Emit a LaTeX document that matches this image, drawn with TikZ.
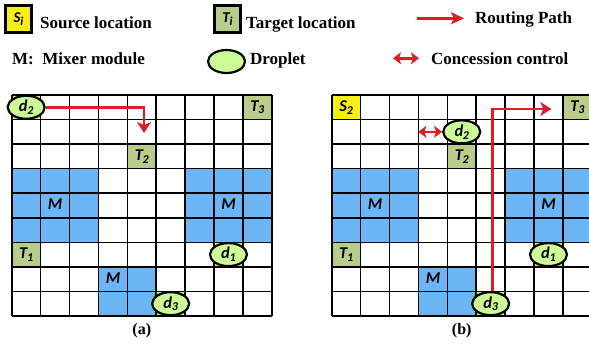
\documentclass[tikz,border=0pt]{standalone}
\usepackage{fontspec}
\setmainfont{Liberation Serif}
\newfontfamily\cellfont{Carlito}
\usetikzlibrary{arrows.meta,shapes.geometric}

\definecolor{srcyellow}{RGB}{246,240,20}
\definecolor{tgtgreen}{RGB}{184,204,140}
\definecolor{mixblue}{RGB}{108,182,246}
\definecolor{dropgreen}{RGB}{204,252,150}
\definecolor{pathred}{RGB}{222,30,38}

% italic bold cell label with a lowered index
\newcommand\celllab[2]{{\cellfont\bfseries\itshape #1\kern-0.3pt\raisebox{-0.35ex}{\fontsize{12}{12}\selectfont #2}}}

\tikzset{
  legtext/.style={anchor=base west, inner sep=0pt, font=\fontsize{17}{20}\selectfont\bfseries},
  gridline/.style={line width=1.6pt, black},
  celltext/.style={inner sep=0pt, font=\fontsize{16.5}{16}\selectfont},
  drop/.style={ellipse, draw=black, line width=2.2pt, fill=dropgreen,
    minimum width=37pt, minimum height=23pt, inner sep=0pt,
    font=\fontsize{16.5}{16}\selectfont},
  legbox/.style={rectangle, draw=black, line width=2.6pt, minimum width=26pt,
    minimum height=27pt, inner sep=0pt, font=\fontsize{15}{15}\selectfont},
  route/.style={draw=pathred, line width=2.8pt, -{Stealth[length=11pt,width=14pt,inset=3pt]}},
  concede/.style={draw=pathred, line width=2.6pt,
    {Stealth[length=8pt,width=12pt,inset=2pt]}-{Stealth[length=8pt,width=12pt,inset=2pt]}},
  caption/.style={inner sep=0pt, font=\fontsize{16}{18}\selectfont\bfseries},
}

% one 9x9 board; #1 is the prefix of its node names
\newcommand\drawboard[1]{%
  % mixer modules
  \fill[mixblue] (0,3) rectangle (3,6);
  \fill[mixblue] (6,3) rectangle (9,6);
  \fill[mixblue] (3,7) rectangle (5,9);
  % source cells
  \fill[srcyellow] (7,6) rectangle (8,7);
  \fill[srcyellow] (5,8) rectangle (6,9);
  \fill[srcyellow] (0,0) rectangle (1,1);
  % target cells
  \fill[tgtgreen] (8,0) rectangle (9,1);
  \fill[tgtgreen] (4,2) rectangle (5,3);
  \fill[tgtgreen] (0,6) rectangle (1,7);
  % electrode lines
  \foreach \i in {0,...,9} {
    \draw[gridline] (\i,0) -- (\i,9);
    \draw[gridline] (0,\i) -- (9,\i);
  }
  \node[celltext] (#1T3) at (8.5,0.5) {\celllab{T}{3}};
  \node[celltext] (#1T2) at (4.5,2.5) {\celllab{T}{2}};
  \node[celltext] (#1T1) at (0.5,6.5) {\celllab{T}{1}};
  \node[celltext] (#1M1) at (1.5,4.5) {\celllab{M}{}};
  \node[celltext] (#1M2) at (7.5,4.5) {\celllab{M}{}};
  \node[celltext] (#1M3) at (3.5,7.5) {\celllab{M}{}};
  \node[drop] (#1d1) at (7.5,6.5) {\celllab{d}{1}};
  \node[drop] (#1d3) at (5.5,8.5) {\celllab{d}{3}};
}

\begin{document}
\begin{tikzpicture}[x=1pt,y=-1pt]
\clip (0,0) rectangle (589,350);
\fill[white] (0,0) rectangle (589,350);

% ---------- legend ----------
\node[legbox, fill=srcyellow] (legS) at (18.5,19) {\celllab{S}{i}};
\node[legtext] (legStext) at (40,28.3) {Source location};
\node[legbox, fill=tgtgreen] (legT) at (227.5,19) {\celllab{T}{i}};
\node[legtext] (legTtext) at (246,28.3) {Target location};
\coordinate (rpA) at (417,18.3);
\coordinate (rpB) at (464,18.3);
\draw[route, -{Stealth[length=13pt,width=12pt,inset=3pt]}] (rpA) -- (rpB);
\node[legtext] (legRtext) at (475,24) {Routing Path};

\node[legtext] (legMtext) at (12,65) {M:\ \ Mixer module};
\node[drop] (legD) at (226.5,61.5) {};
\node[legtext] (legDtext) at (250,65) {Droplet};
\coordinate (ccA) at (393,58.3);
\coordinate (ccB) at (419,58.3);
\draw[concede] (ccA) -- (ccB);
\node[legtext] (legCtext) at (431,65) {Concession control};

% ---------- board (a) ----------
\begin{scope}[shift={(11.7,95)}, x=28.9pt, y=-24.55pt]
  \drawboard{a-}
  \node[drop] (a-d2) at (0.5,0.5) {\celllab{d}{2}};
  \coordinate (a-bend) at (4.58,0.5);
  \coordinate (a-end) at (4.58,1.55);
  \draw[route] (a-d2.east) -- (a-bend) -- (a-end);
  \node[caption] (a-cap) at (4.5,9.6) {(a)};
\end{scope}

% ---------- board (b) ----------
\begin{scope}[shift={(331.7,95)}, x=28.9pt, y=-24.55pt]
  \drawboard{b-}
  \node[celltext] (b-S2) at (0.5,0.5) {\celllab{S}{2}};
  \node[drop] (b-d2) at (4.5,1.5) {\celllab{d}{2}};
  \coordinate (b-bend) at (5.55,0.57);
  \coordinate (b-end) at (7.6,0.57);
  \draw[route] (b-d3.north -| b-bend) -- (b-bend) -- (b-end);
  \coordinate (b-cc) at (3.0,1.5);
  \draw[concede] (b-cc) -- (b-d2.west);
  \node[caption] (b-cap) at (4.5,9.6) {(b)};
\end{scope}
\end{tikzpicture}
\end{document}
